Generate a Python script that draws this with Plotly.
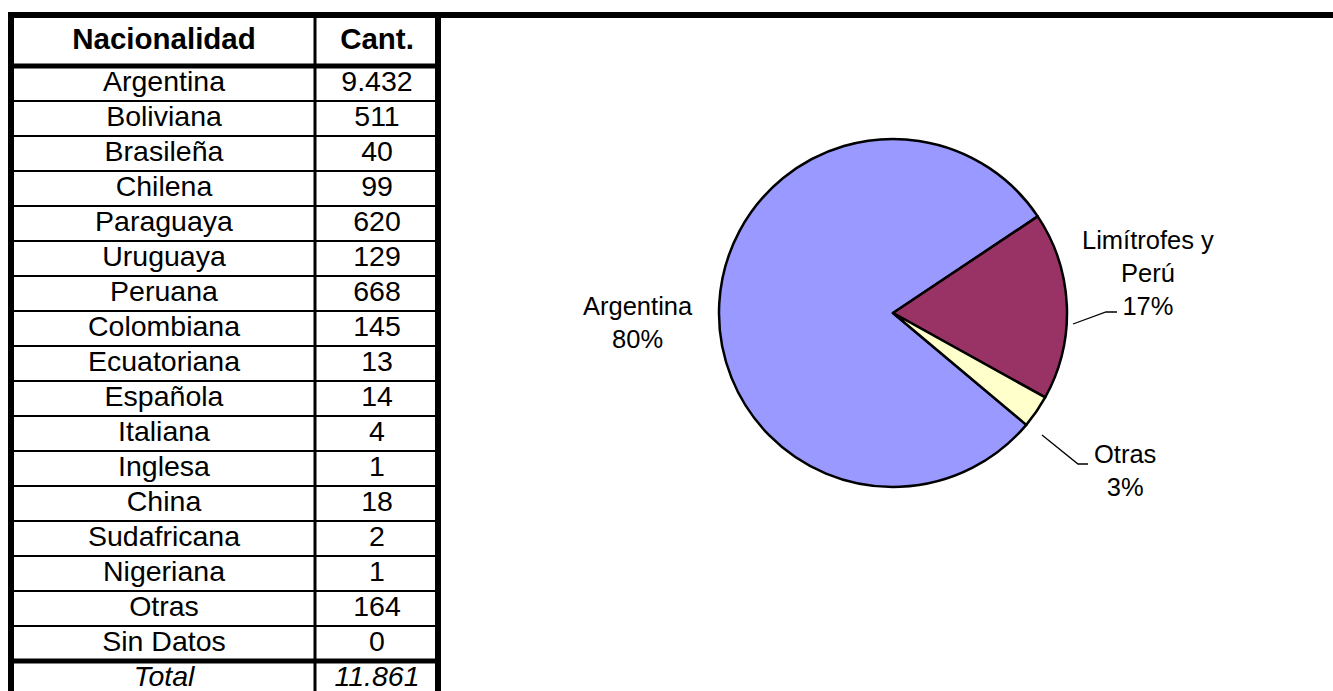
import plotly.graph_objects as go

# ---------------- data ----------------
nationalities = ["Argentina", "Boliviana", "Brasileña", "Chilena", "Paraguaya",
                 "Uruguaya", "Peruana", "Colombiana", "Ecuatoriana", "Española",
                 "Italiana", "Inglesa", "China", "Sudafricana", "Nigeriana",
                 "Otras", "Sin Datos"]
counts = [9432, 511, 40, 99, 620, 129, 668, 145, 13, 14, 4, 1, 18, 2, 1, 164, 0]
header_labels = ["Nacionalidad", "Cant."]
total_label = "Total"

bordering_and_peru = ["Boliviana", "Brasileña", "Chilena", "Paraguaya", "Uruguaya", "Peruana"]
pie_labels = ["Argentina", "Limítrofes y Perú", "Otras"]
pie_colors = ["#9999FF", "#993366", "#FFFFCC"]

# ---------------- derived values ----------------
total = sum(counts)
arg_val = counts[nationalities.index("Argentina")]
lim_val = sum(counts[nationalities.index(n)] for n in bordering_and_peru)
otr_val = total - arg_val - lim_val
pie_values = [arg_val, lim_val, otr_val]


def fmt(v):
    return f"{v:,}".replace(",", ".")


# ---------------- geometry (pixels) ----------------
W, H = 1333, 691
FONT = "Arial, Liberation Sans, sans-serif"
ROW_PITCH = 35
FIRST_ROW_PX = 83.5
COL_X = [164, 377]
HEADER_PX = 42


def px(x):
    return x / W


def py(y):
    return 1 - y / H


def row_of_px(p):
    return (p - FIRST_ROW_PX) / ROW_PITCH


y_top = row_of_px(0)
y_bot = row_of_px(H)

row_names = nationalities + [f"<i>{total_label}</i>"]
row_vals = [fmt(v) for v in counts] + [f"<i>{fmt(total)}</i>"]
row_idx = list(range(len(row_names)))

fig = go.Figure()

tf = dict(family=FONT, size=28.5, color="black")
hf = dict(family=FONT, size=29.5, color="black")
fig.add_trace(go.Scatter(x=[COL_X[0]] * len(row_names), y=row_idx, mode="text",
                         text=row_names, textfont=tf, textposition="middle center",
                         hoverinfo="skip", showlegend=False, cliponaxis=False))
fig.add_trace(go.Scatter(x=[COL_X[1]] * len(row_vals), y=row_idx, mode="text",
                         text=row_vals, textfont=tf, textposition="middle center",
                         hoverinfo="skip", showlegend=False, cliponaxis=False))
fig.add_trace(go.Scatter(x=COL_X, y=[row_of_px(HEADER_PX)] * 2, mode="text",
                         text=[f"<b>{h}</b>" for h in header_labels], textfont=hf,
                         textposition="middle center", hoverinfo="skip",
                         showlegend=False, cliponaxis=False))

# ---------------- pie ----------------
CX, CY, R = 893, 313, 174
fig.add_trace(go.Pie(
    labels=pie_labels, values=pie_values, sort=False, direction="clockwise",
    rotation=130, textinfo="none", showlegend=False, hoverinfo="label+percent",
    marker=dict(colors=pie_colors, line=dict(color="black", width=2.5)),
    domain=dict(x=[px(CX - R), px(CX + R)], y=[py(CY + R), py(CY - R)]),
))

pcts = [round(100 * v / total) for v in pie_values]
label_pos = [(638, 322), (1148, 273), (1125, 470)]
label_texts = ["Argentina", "Limítrofes y<br>Perú", "Otras"]
annotations = []
for (lx, ly), t, p in zip(label_pos, label_texts, pcts):
    annotations.append(dict(x=px(lx), y=py(ly), xref="paper", yref="paper",
                            text=f"{t}<br>{p}%", showarrow=False, align="center",
                            xanchor="center", yanchor="middle",
                            font=dict(family=FONT, size=25.5, color="black")))

shapes = []
# leader lines
for pts in [[(1073, 324), (1106, 312), (1117, 312)],
            [(1042, 435), (1078, 464), (1088, 464)]]:
    path = "M " + " L ".join(f"{x},{py(y)}" for x, y in pts)
    shapes.append(dict(type="path", xref="x", yref="paper", path=path,
                       line=dict(color="black", width=1.3)))


# table borders
def hline(x0, x1, yp, w):
    shapes.append(dict(type="line", xref="x", yref="paper", x0=x0, x1=x1,
                       y0=py(yp), y1=py(yp), line=dict(color="black", width=w)))


def vline(xp, y0, y1, w):
    shapes.append(dict(type="line", xref="x", yref="paper", x0=xp, x1=xp,
                       y0=py(y0), y1=py(y1), line=dict(color="black", width=w)))


hline(8, W, 15, 6)
vline(11, 12, H, 6)
vline(315, 15, H, 3)
vline(438, 15, H, 6)
# row separators (data rows)
for i in range(len(row_names) - 1):
    yv = i + 0.5
    w = 5 if i == len(row_names) - 2 else 2
    shapes.append(dict(type="line", xref="x", yref="y", x0=11, x1=438,
                       y0=yv, y1=yv, line=dict(color="black", width=w)))
# header bottom
shapes.append(dict(type="line", xref="x", yref="y", x0=8, x1=441,
                   y0=-0.5, y1=-0.5, line=dict(color="black", width=5)))

fig.update_layout(
    width=W, height=H, margin=dict(l=0, r=0, t=0, b=0),
    paper_bgcolor="white", plot_bgcolor="white",
    xaxis=dict(range=[0, W], visible=False, fixedrange=True),
    yaxis=dict(range=[y_bot, y_top], visible=False, fixedrange=True),
    annotations=annotations, shapes=shapes,
)

fig.write_html("out.html", config={"displayModeBar": False},
               post_script="document.body.style.margin='0';document.body.style.overflow='hidden';")
